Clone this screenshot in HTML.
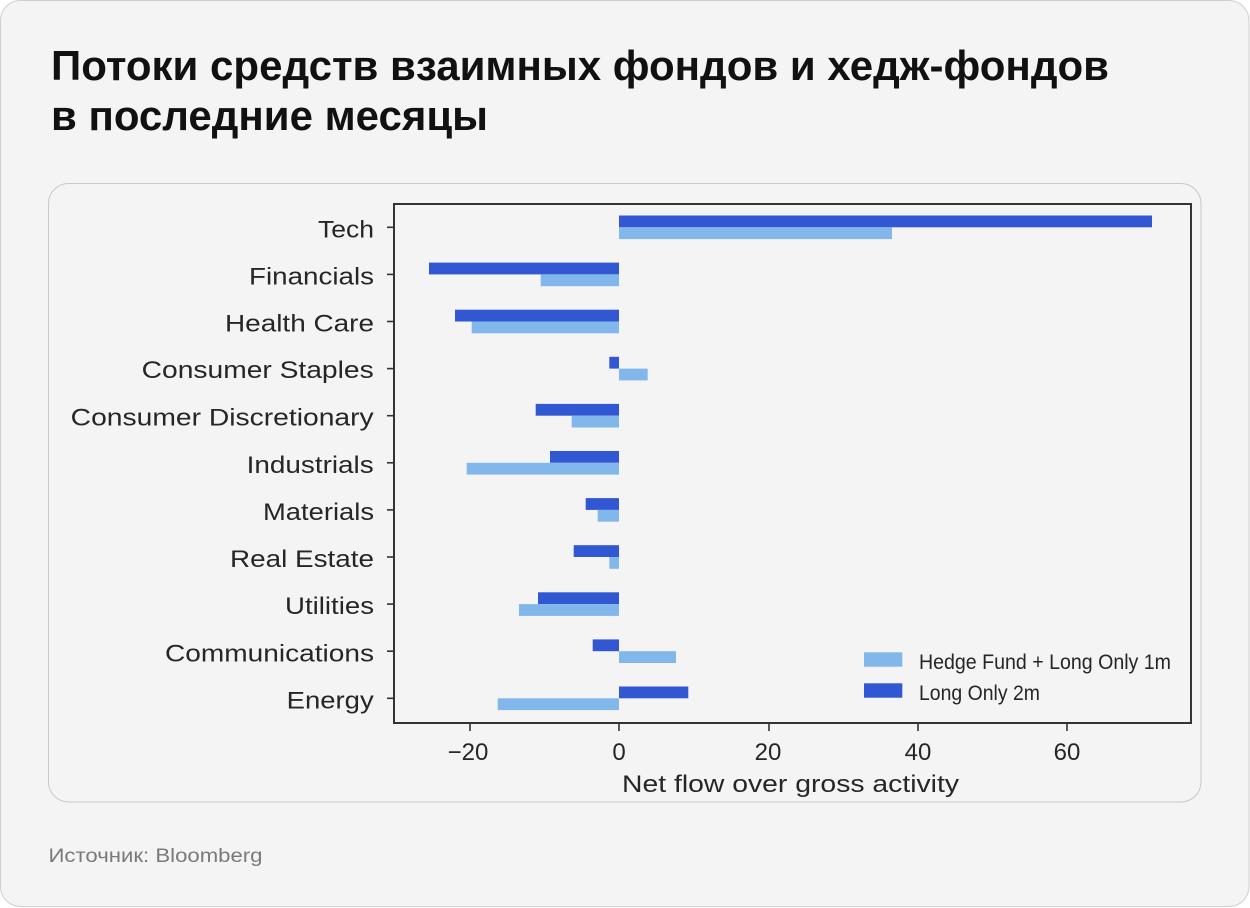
<!DOCTYPE html>
<html>
<head>
<meta charset="utf-8">
<style>
  html, body { margin: 0; padding: 0; background: #ffffff; }
  svg { display: block; }
  text { font-family: "Liberation Sans", Arial, sans-serif; }
</style>
</head>
<body>
<svg width="1250" height="908" viewBox="0 0 1250 908" xmlns="http://www.w3.org/2000/svg">
  <!-- outer card -->
  <rect x="0.5" y="0.5" width="1248.5" height="906" rx="20" ry="20" fill="#f4f4f4" stroke="#cfcfcf" stroke-width="1"/>

  <!-- title -->
  <text x="51" y="80" font-size="42" font-weight="bold" fill="#111" textLength="1058" lengthAdjust="spacingAndGlyphs">Потоки средств взаимных фондов и хедж-фондов</text>
  <text x="51" y="130" font-size="42" font-weight="bold" fill="#111" textLength="437" lengthAdjust="spacingAndGlyphs">в последние месяцы</text>

  <!-- inner card -->
  <rect x="48.5" y="183.5" width="1152.5" height="618.5" rx="20" ry="20" fill="#f4f4f4" stroke="#c8c8c8" stroke-width="1"/>

  <!-- bars: dark = Long Only 2m (upper), light = Hedge Fund + Long Only 1m (lower) -->
  <g fill="#3257d3">
    <rect x="619" y="215.5" width="533" height="11.8"/>
    <rect x="429" y="262.6" width="190" height="11.8"/>
    <rect x="455" y="309.7" width="164" height="11.8"/>
    <rect x="609.3" y="356.8" width="9.7" height="11.8"/>
    <rect x="535.7" y="403.9" width="83.3" height="11.8"/>
    <rect x="550" y="451.0" width="69" height="11.8"/>
    <rect x="585.7" y="498.1" width="33.3" height="11.8"/>
    <rect x="573.7" y="545.2" width="45.3" height="11.8"/>
    <rect x="538" y="592.3" width="81" height="11.8"/>
    <rect x="592.7" y="639.4" width="26.3" height="11.8"/>
    <rect x="619" y="686.5" width="69.3" height="11.8"/>
  </g>
  <g fill="#82b7ec">
    <rect x="619" y="227.3" width="273" height="11.8"/>
    <rect x="540.7" y="274.4" width="78.3" height="11.8"/>
    <rect x="471.7" y="321.5" width="147.3" height="11.8"/>
    <rect x="619" y="368.6" width="28.7" height="11.8"/>
    <rect x="571.7" y="415.7" width="47.3" height="11.8"/>
    <rect x="466.7" y="462.8" width="152.3" height="11.8"/>
    <rect x="597.7" y="509.9" width="21.3" height="11.8"/>
    <rect x="609.3" y="557.0" width="9.7" height="11.8"/>
    <rect x="519" y="604.1" width="100" height="11.8"/>
    <rect x="619" y="651.2" width="57" height="11.8"/>
    <rect x="497.7" y="698.3" width="121.3" height="11.8"/>
  </g>

  <!-- axes frame -->
  <rect x="394" y="204" width="797" height="519" fill="none" stroke="#333" stroke-width="2"/>

  <!-- y ticks -->
  <g stroke="#333" stroke-width="1.6">
    <line x1="387" y1="227.3" x2="394" y2="227.3"/>
    <line x1="387" y1="274.4" x2="394" y2="274.4"/>
    <line x1="387" y1="321.5" x2="394" y2="321.5"/>
    <line x1="387" y1="368.6" x2="394" y2="368.6"/>
    <line x1="387" y1="415.7" x2="394" y2="415.7"/>
    <line x1="387" y1="462.8" x2="394" y2="462.8"/>
    <line x1="387" y1="509.9" x2="394" y2="509.9"/>
    <line x1="387" y1="557.0" x2="394" y2="557.0"/>
    <line x1="387" y1="604.1" x2="394" y2="604.1"/>
    <line x1="387" y1="651.2" x2="394" y2="651.2"/>
    <line x1="387" y1="698.3" x2="394" y2="698.3"/>
  </g>
  <!-- x ticks -->
  <g stroke="#333" stroke-width="1.6">
    <line x1="470" y1="723" x2="470" y2="731"/>
    <line x1="619" y1="723" x2="619" y2="731"/>
    <line x1="769" y1="723" x2="769" y2="731"/>
    <line x1="918" y1="723" x2="918" y2="731"/>
    <line x1="1067" y1="723" x2="1067" y2="731"/>
  </g>

  <!-- y labels -->
  <g font-size="24" fill="#262626">
    <text x="318" y="237.5" textLength="56" lengthAdjust="spacingAndGlyphs">Tech</text>
    <text x="249" y="284.6" textLength="125" lengthAdjust="spacingAndGlyphs">Financials</text>
    <text x="225" y="331.7" textLength="149" lengthAdjust="spacingAndGlyphs">Health Care</text>
    <text x="141.7" y="378.0" textLength="232" lengthAdjust="spacingAndGlyphs">Consumer Staples</text>
    <text x="70.7" y="425.5" textLength="303" lengthAdjust="spacingAndGlyphs">Consumer Discretionary</text>
    <text x="246.7" y="472.8" textLength="127" lengthAdjust="spacingAndGlyphs">Industrials</text>
    <text x="263" y="520.0" textLength="111" lengthAdjust="spacingAndGlyphs">Materials</text>
    <text x="230" y="567.0" textLength="144" lengthAdjust="spacingAndGlyphs">Real Estate</text>
    <text x="285" y="614.2" textLength="89" lengthAdjust="spacingAndGlyphs">Utilities</text>
    <text x="165" y="661.5" textLength="209" lengthAdjust="spacingAndGlyphs">Communications</text>
    <text x="286.7" y="708.5" textLength="87" lengthAdjust="spacingAndGlyphs">Energy</text>
  </g>

  <!-- x tick labels -->
  <g font-size="24" fill="#262626" text-anchor="middle">
    <text x="468" y="760">−20</text>
    <text x="619" y="760">0</text>
    <text x="768" y="760">20</text>
    <text x="918" y="760">40</text>
    <text x="1067" y="760">60</text>
  </g>
  <text x="622" y="792" font-size="24" fill="#262626" textLength="337" lengthAdjust="spacingAndGlyphs">Net flow over gross activity</text>

  <!-- legend -->
  <rect x="864" y="652.3" width="38.3" height="14.4" fill="#82b7ec"/>
  <rect x="864" y="683.3" width="38.3" height="14.4" fill="#3257d3"/>
  <text x="919" y="669" font-size="21" fill="#262626" textLength="252" lengthAdjust="spacingAndGlyphs">Hedge Fund + Long Only 1m</text>
  <text x="919" y="700" font-size="21" fill="#262626" textLength="121" lengthAdjust="spacingAndGlyphs">Long Only 2m</text>

  <!-- source -->
  <text x="48.5" y="862" font-size="19" fill="#7a7a7a" textLength="214" lengthAdjust="spacingAndGlyphs">Источник: Bloomberg</text>
</svg>
</body>
</html>
